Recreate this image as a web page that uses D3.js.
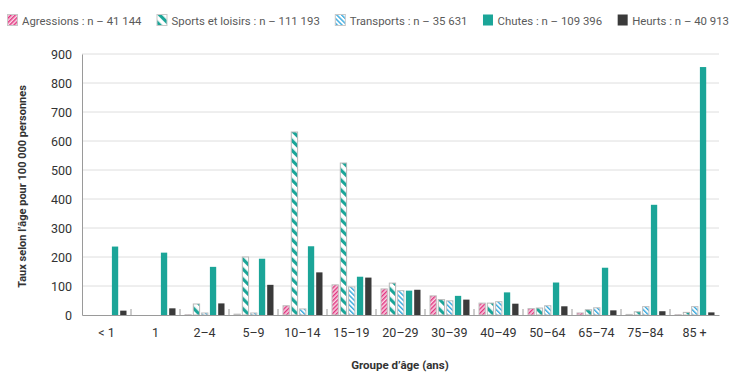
<!DOCTYPE html>
<html>
<head>
<meta charset="utf-8">
<script src="https://cdn.jsdelivr.net/npm/d3@7"></script>
<style>
  body { margin: 0; background: #fff; }
  text { font-family: "Roboto", "Liberation Sans", sans-serif; }
</style>
</head>
<body>
<div id="chart"></div>
<script>
// age groups on the x axis
const ageGroups = ["< 1", "1", "2–4", "5–9", "10–14", "15–19", "20–29", "30–39", "40–49", "50–64", "65–74", "75–84", "85 +"];

// series (rate per 100 000)
const seriesNames = ["Agressions", "Sports et loisirs", "Transports", "Chutes", "Heurts"];
const legendLabels = ["Agressions : n – 41 144", "Sports et loisirs : n – 111 193", "Transports : n – 35 631", "Chutes : n – 109 396", "Heurts : n – 40 913"];
const agressions = [0, 0, 1, 3, 32, 104, 90, 66, 41, 22, 7, 2, 1];
const sports     = [0, 0, 38, 200, 631, 524, 110, 53, 41, 24, 18, 11, 9];
const transports = [0, 0, 7, 7, 21, 97, 84, 49, 46, 32, 25, 29, 29];
const chutes     = [236, 215, 166, 194, 237, 132, 84, 66, 78, 112, 163, 380, 855];
const heurts     = [15, 23, 40, 104, 147, 129, 87, 53, 39, 30, 16, 13, 9];
const yTicks = [0, 100, 200, 300, 400, 500, 600, 700, 800, 900];

const seriesValues = [agressions, sports, transports, chutes, heurts];

const width = 743, height = 382;
const svg = d3.select("#chart").append("svg")
  .attr("width", width).attr("height", height);

// hatch patterns
const defs = svg.append("defs");
function hatch(id, bg, fg, size, sw, dir) {
  const p = defs.append("pattern")
    .attr("id", id)
    .attr("patternUnits", "userSpaceOnUse")
    .attr("width", size).attr("height", size)
    .attr("patternTransform", `rotate(${dir})`);
  p.append("rect").attr("width", size).attr("height", size).attr("fill", bg);
  p.append("rect").attr("width", sw).attr("height", size).attr("fill", fg);
}
hatch("pAgr", "#f9d3e4", "#e2337f", 3, 1.4, 45);
hatch("pSport", "#ffffff", "#1ba598", 7, 3.2, -45);
hatch("pTrans", "#ffffff", "#36a9df", 3.4, 1.4, -45);

const fills = ["url(#pAgr)", "url(#pSport)", "url(#pTrans)", "#1ba598", "#3a3a3a"];
const strokes = ["#c0c0c0", "#b8b8b8", "#c0c0c0", "none", "none"];

const mLeft = 82, mRight = 719, mTop = 54, mBottom = 315;

const x0 = d3.scaleBand().domain(ageGroups).range([mLeft, mRight]);
const x1 = d3.scaleBand().domain(seriesNames)
  .range([4.5, x0.bandwidth() - 4]).paddingInner(0.12);
const y = d3.scaleLinear().domain([0, 900]).range([mBottom, mTop]);

// gridlines
svg.append("g").selectAll("line")
  .data(yTicks.filter(d => d > 0))
  .join("line")
  .attr("x1", mLeft).attr("x2", mRight)
  .attr("y1", d => y(d)).attr("y2", d => y(d))
  .attr("stroke", "#dedede").attr("stroke-width", 1);

// y axis
const yAxis = svg.append("g")
  .attr("transform", `translate(${mLeft},0)`)
  .call(d3.axisLeft(y).tickValues(yTicks).tickSize(0).tickPadding(10));
yAxis.select(".domain").attr("stroke", "#9a9a9a");
yAxis.selectAll("text").attr("font-size", 12.5).attr("fill", "#333");

// bars
const groups = svg.append("g").selectAll("g")
  .data(ageGroups)
  .join("g")
  .attr("transform", d => `translate(${x0(d)},0)`);

groups.selectAll("rect")
  .data((g, gi) => seriesNames.map((s, si) => ({ s, si, v: seriesValues[si][gi] })).filter(d => d.v > 0))
  .join("rect")
  .attr("x", d => x1(d.s) + 0.5)
  .attr("width", x1.bandwidth() - 1)
  .attr("y", d => y(d.v))
  .attr("height", d => y(0) - y(d.v))
  .attr("fill", d => fills[d.si])
  .attr("stroke", d => strokes[d.si])
  .attr("stroke-width", 1);

// x axis
const xAxis = svg.append("g")
  .attr("transform", `translate(0,${mBottom})`)
  .call(d3.axisBottom(x0).tickSize(0).tickPadding(13));
xAxis.select(".domain").attr("stroke", "#9a9a9a");
xAxis.selectAll("text").attr("font-size", 12.5).attr("fill", "#333");

// small tick marks between groups, pointing up
svg.append("g").selectAll("line")
  .data(ageGroups.slice(1))
  .join("line")
  .attr("x1", d => x0(d)).attr("x2", d => x0(d))
  .attr("y1", mBottom).attr("y2", mBottom - 6)
  .attr("stroke", "#9a9a9a");

// axis titles
svg.append("text")
  .attr("x", 400).attr("y", 369)
  .attr("text-anchor", "middle")
  .attr("font-size", 11.5).attr("font-weight", "bold").attr("fill", "#333")
  .text("Groupe d’âge (ans)");

svg.append("text")
  .attr("transform", `translate(26,${(mTop + mBottom) / 2 + 2}) rotate(-90)`)
  .attr("text-anchor", "middle")
  .attr("font-size", 11).attr("font-weight", "bold").attr("fill", "#333")
  .text("Taux selon l’âge pour 100 000 personnes");

// legend: items laid out one after another, shrink the type if the row is too long
const legend = svg.append("g").attr("transform", "translate(7,14)");
let fs = 11.8;
function layoutLegend() {
  legend.selectAll("*").remove();
  let lx = 0;
  seriesNames.forEach((s, i) => {
    const item = legend.append("g").attr("transform", `translate(${lx},0)`);
    item.append("rect")
      .attr("x", 0.5).attr("y", 0.5).attr("width", 10).attr("height", 11)
      .attr("fill", fills[i])
      .attr("stroke", strokes[i] === "none" ? "none" : "#c8c8c8");
    const t = item.append("text")
      .attr("x", 15).attr("y", 10.5)
      .attr("font-size", fs).attr("fill", "#5a5a5a")
      .text(legendLabels[i]);
    lx += 15 + t.node().getComputedTextLength() + (i < seriesNames.length - 1 ? 15 : 0);
  });
  return lx;
}
while (layoutLegend() > 729 && fs > 9) fs -= 0.2;
</script>
</body>
</html>
